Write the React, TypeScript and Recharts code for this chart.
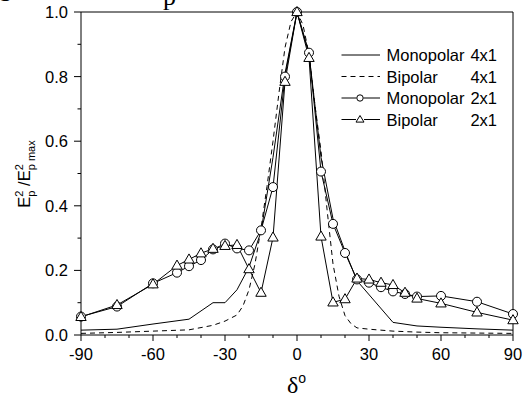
import React from 'react';
import { LineChart, Line, XAxis, YAxis, ReferenceLine } from 'recharts';

const FONT = '"Liberation Sans", Arial, Helvetica, sans-serif';
const SERIF = '"Liberation Serif", "Times New Roman", serif';

// Monopolar 4x1 (solid line)
const mono4Angles = [-90, -75, -60, -45, -35, -30, -25, -20, -15, -10, -5, 0, 5, 10, 15, 20, 25, 40, 50, 60, 75, 90];
const mono4Values = [0.015, 0.018, 0.034, 0.049, 0.1, 0.1, 0.14, 0.21, 0.32, 0.55, 0.81, 1.0, 0.87, 0.55, 0.36, 0.26, 0.168, 0.039, 0.028, 0.024, 0.019, 0.015];

// Bipolar 4x1 (dashed line)
const bip4Angles = [-90, -75, -60, -45, -35, -30, -25, -22.5, -20, -17.5, -15, -12.5, -10, -7.5, -5, -2.5, 0, 2.5, 5, 7.5, 10, 12.5, 15, 17.5, 20, 22.5, 25, 30, 40, 50, 60, 75, 90];
const bip4Values = [0.005, 0.008, 0.012, 0.016, 0.03, 0.043, 0.062, 0.09, 0.14, 0.22, 0.33, 0.46, 0.6, 0.75, 0.89, 0.97, 1.0, 0.96, 0.87, 0.71, 0.57, 0.39, 0.22, 0.12, 0.06, 0.035, 0.022, 0.018, 0.012, 0.009, 0.007, 0.006, 0.005];

// Monopolar 2x1 (circles)
const mono2Angles = [-90, -75, -60, -50, -45, -40, -35, -30, -25, -20, -15, -10, -5, 0, 5, 10, 15, 20, 25, 30, 35, 40, 45, 50, 60, 75, 90];
const mono2Values = [0.057, 0.088, 0.16, 0.193, 0.213, 0.232, 0.265, 0.283, 0.268, 0.262, 0.324, 0.458, 0.8, 1.0, 0.874, 0.506, 0.344, 0.254, 0.172, 0.162, 0.148, 0.135, 0.127, 0.119, 0.121, 0.103, 0.065];

// Bipolar 2x1 (triangles)
const bip2Angles = [-90, -75, -60, -50, -45, -40, -35, -30, -25, -20, -15, -10, -5, 0, 5, 10, 15, 20, 25, 30, 35, 40, 45, 50, 60, 75, 90];
const bip2Values = [0.056, 0.093, 0.157, 0.215, 0.234, 0.253, 0.267, 0.276, 0.279, 0.204, 0.131, 0.302, 0.784, 1.0, 0.858, 0.305, 0.101, 0.111, 0.175, 0.172, 0.162, 0.155, 0.131, 0.113, 0.098, 0.07, 0.046];

const xTicks = [-90, -80, -70, -60, -50, -40, -30, -20, -10, 0, 10, 20, 30, 40, 50, 60, 70, 80, 90];
const yTicks = [0, 0.1, 0.2, 0.3, 0.4, 0.5, 0.6, 0.7, 0.8, 0.9, 1.0];
const legendNames = ['Monopolar', 'Bipolar', 'Monopolar', 'Bipolar'];
const legendSizes = ['4x1', '4x1', '2x1', '2x1'];

const toPoints = (xs: number[], ys: number[]) => xs.map((x, i) => ({ x, y: ys[i] }));

const mono4 = toPoints(mono4Angles, mono4Values);
const bip4 = toPoints(bip4Angles, bip4Values);
const mono2 = toPoints(mono2Angles, mono2Values);
const bip2 = toPoints(bip2Angles, bip2Values);

const XTick = (props: any) => {
  const { x, y, payload } = props;
  const v = payload.value;
  const major = Math.round(v) % 30 === 0;
  return (
    <g>
      <line x1={x} x2={x} y1={y} y2={y + (major ? 6 : 3)} stroke="#000" strokeWidth={1} />
      {major && (
        <text x={x} y={y + 25} textAnchor="middle" fontSize={16.5} fontFamily={FONT} fill="#000">
          {String(v)}
        </text>
      )}
    </g>
  );
};

const YTick = (props: any) => {
  const { x, y, payload } = props;
  const v = payload.value;
  const major = Math.round(v * 10) % 2 === 0;
  return (
    <g>
      <line x1={x} x2={x - (major ? 7 : 3.5)} y1={y} y2={y} stroke="#000" strokeWidth={1} />
      {major && (
        <text x={x - 13} y={y + 6} textAnchor="end" fontSize={16.5} fontFamily={FONT} fill="#000">
          {v.toFixed(1)}
        </text>
      )}
    </g>
  );
};

const CircleDot = (props: any) => {
  const { cx, cy } = props;
  if (cx == null || cy == null) return null;
  return <circle cx={cx} cy={cy} r={4.5} fill="#fff" stroke="#000" strokeWidth={1} />;
};

const TriangleDot = (props: any) => {
  const { cx, cy } = props;
  if (cx == null || cy == null) return null;
  return (
    <path
      d={`M${cx},${cy - 5.5} L${cx + 5.2},${cy + 3.6} L${cx - 5.2},${cy + 3.6} Z`}
      fill="#fff"
      stroke="#000"
      strokeWidth={1}
    />
  );
};

const legendRows = [55, 76.5, 98, 119.5];

export default function App() {
  return (
    <div style={{ position: 'absolute', left: 0, top: 0, width: 523, height: 398, background: '#fff' }}>
      <LineChart width={523} height={398} margin={{ top: 12, right: 10, bottom: 23, left: 21 }}>
        <XAxis
          dataKey="x"
          type="number"
          domain={[-90, 90]}
          ticks={xTicks}
          interval={0}
          allowDuplicatedCategory={false}
          height={40}
          tickSize={0}
          tickMargin={0}
          tickLine={false}
          tick={<XTick />}
          axisLine={{ stroke: '#000', strokeWidth: 1 }}
        />
        <YAxis
          type="number"
          domain={[0, 1]}
          ticks={yTicks}
          interval={0}
          width={60}
          tickSize={0}
          tickMargin={0}
          tickLine={false}
          tick={<YTick />}
          axisLine={{ stroke: '#000', strokeWidth: 1 }}
        />
        <ReferenceLine y={1} stroke="#000" strokeWidth={1} />
        <ReferenceLine x={90} stroke="#000" strokeWidth={1} />
        <Line data={mono4} dataKey="y" type="linear" stroke="#000" strokeWidth={1} dot={false} isAnimationActive={false} />
        <Line data={bip4} dataKey="y" type="linear" stroke="#000" strokeWidth={1} strokeDasharray="5 4" dot={false} isAnimationActive={false} />
        <Line data={mono2} dataKey="y" type="linear" stroke="#000" strokeWidth={1} dot={<CircleDot />} isAnimationActive={false} />
        <Line data={bip2} dataKey="y" type="linear" stroke="#000" strokeWidth={1} dot={<TriangleDot />} isAnimationActive={false} />
      </LineChart>
      <svg
        width={523}
        height={398}
        style={{ position: 'absolute', left: 0, top: 0, pointerEvents: 'none', overflow: 'hidden' }}
      >
        {/* cropped caption fragments */}
        <text x={-1} y={-4} fontSize={26} fontFamily={SERIF} fill="#000">g</text>
        <text x={163} y={5} fontSize={26} fontFamily={SERIF} fill="#000">p</text>

        {/* legend */}
        {legendRows.map((ry, i) => (
          <g key={i}>
            {i === 0 && <line x1={341.5} x2={380} y1={ry} y2={ry} stroke="#000" strokeWidth={1} />}
            {i === 1 && <line x1={341.5} x2={380} y1={ry} y2={ry} stroke="#000" strokeWidth={1} strokeDasharray="5 4" />}
            {i === 2 && (
              <g>
                <line x1={341.5} x2={356.5} y1={ry} y2={ry} stroke="#000" strokeWidth={1} />
                <circle cx={360} cy={ry} r={3.2} fill="#fff" stroke="#000" strokeWidth={1} />
                <line x1={363.5} x2={380} y1={ry} y2={ry} stroke="#000" strokeWidth={1} />
              </g>
            )}
            {i === 3 && (
              <g>
                <line x1={341.5} x2={356} y1={ry} y2={ry} stroke="#000" strokeWidth={1} />
                <path d={`M360,${ry - 4} L364,${ry + 2.6} L356,${ry + 2.6} Z`} fill="#fff" stroke="#000" strokeWidth={1} />
                <line x1={364} x2={380} y1={ry} y2={ry} stroke="#000" strokeWidth={1} />
              </g>
            )}
            <text x={386.5} y={ry + 6} fontSize={16.5} fontFamily={FONT} fill="#000">
              {legendNames[i]}
            </text>
            <text x={497} y={ry + 6} textAnchor="end" fontSize={16.5} fontFamily={FONT} fill="#000">
              {legendSizes[i]}
            </text>
          </g>
        ))}

        {/* y-axis title */}
        <text
          transform="translate(30,174) rotate(-90)"
          textAnchor="middle"
          fontFamily={FONT}
          fill="#000"
          fontSize={16.5}
        >
          <tspan>E</tspan>
          <tspan fontSize={11} dy={-7}>2</tspan>
          <tspan fontSize={11} dx={-6.1} dy={12}>p</tspan>
          <tspan dy={-5}> /E</tspan>
          <tspan fontSize={11} dy={-7}>2</tspan>
          <tspan fontSize={11} dx={-6.1} dy={12}>p max</tspan>
        </text>

        {/* x-axis title */}
        <text x={287} y={393} fill="#000">
          <tspan fontFamily={SERIF} fontSize={24}>δ</tspan>
          <tspan fontFamily={FONT} fontSize={14} dy={-10}>o</tspan>
        </text>
      </svg>
    </div>
  );
}
